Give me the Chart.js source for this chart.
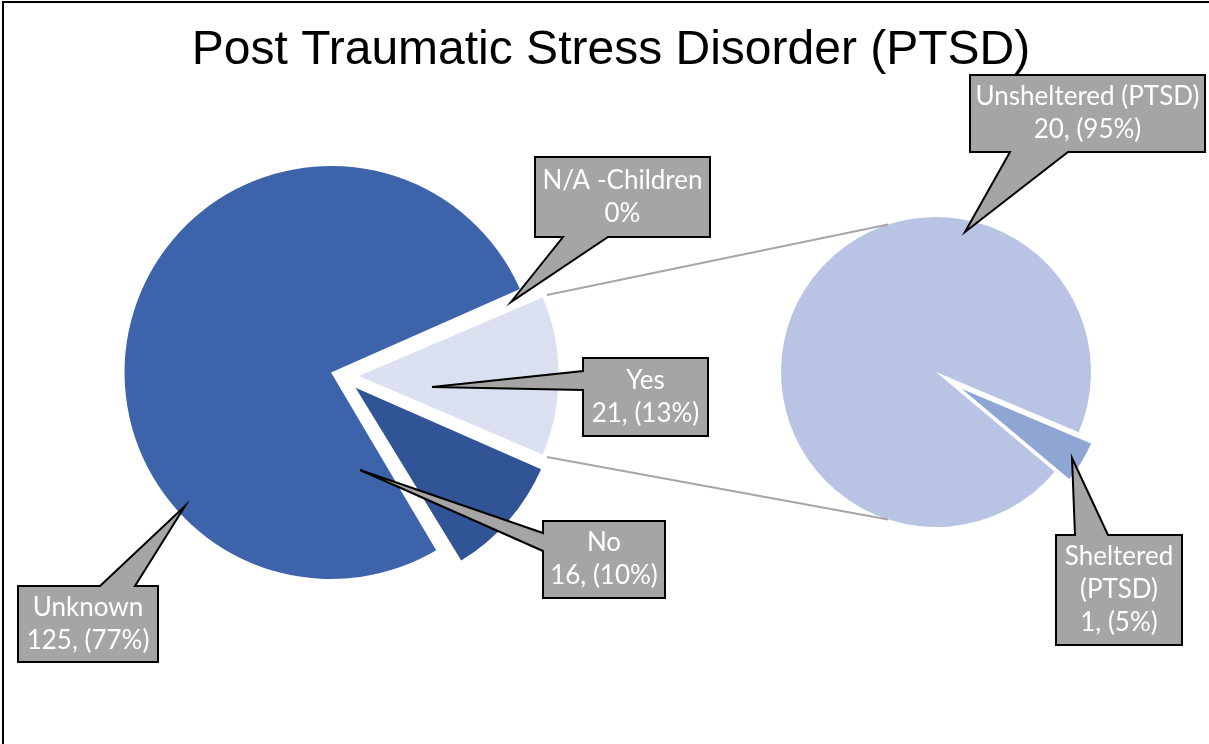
<!DOCTYPE html>
<html>
<head>
<meta charset="utf-8">
<title>Post Traumatic Stress Disorder (PTSD)</title>
<script src="https://cdn.jsdelivr.net/npm/chart.js@4.4.1/dist/chart.umd.min.js"></script>
<style>
    html, body { margin: 0; padding: 0; background: #fff; overflow: hidden; width: 1209px; height: 744px; }
    #frame { position: absolute; left: 2px; top: 1px; width: 1230px; height: 800px; border: 2px solid #000; }
    canvas { position: absolute; left: 0; top: 0; }
</style>
</head>
<body>
<div id="frame"></div>
<canvas id="mainPie" width="1209" height="744"></canvas>
<canvas id="subPie" width="1209" height="744"></canvas>
<canvas id="subSlice" width="1209" height="744"></canvas>
<canvas id="overlay" width="1209" height="744"></canvas>
<script>
const chartTitle = 'Post Traumatic Stress Disorder (PTSD)';

// first pie: Yes is split out into the second pie
const mainLabels = ['Yes', 'No', 'Unknown', 'N/A -Children'];
const mainValues = [21, 16, 125, 0];

// second pie: breakdown of "Yes"
const subLabels = ['Unsheltered (PTSD)', 'Sheltered (PTSD)'];
const subValues = [20, 1];

const W = 1209, H = 744;
const mainColors = ['#DAE0EF', '#305496', '#3D64AB', '#4472C4'];
const subColors = ['#B9C4E4', '#8FA5D4'];
const clear = 'rgba(0,0,0,0)';
const labelFont = '26px Lato, "Open Sans", sans-serif';

const sum = arr => arr.reduce((a, b) => a + b, 0);
const mainTotal = sum(mainValues);
const subTotal = sum(subValues);
const pct = (v, t) => Math.round(v / t * 100) + '%';

// layout padding that puts the pie centre at (cx, cy)
function padFor(cx, cy) {
    return {
        left: Math.max(0, 2 * cx - W),
        right: Math.max(0, W - 2 * cx),
        top: Math.max(0, 2 * cy - H),
        bottom: Math.max(0, H - 2 * cy)
    };
}

function pieOptions(cx, cy, radius, rotation) {
    return {
        responsive: false,
        animation: false,
        events: [],
        rotation: rotation,
        radius: radius,
        layout: { padding: padFor(cx, cy) },
        plugins: { legend: { display: false }, tooltip: { enabled: false }, title: { display: false } }
    };
}

// Yes slice centred on the right-hand side
const mainRotation = 90 - 180 * mainValues[0] / mainTotal;
const subRotation = 130;

const mainChart = new Chart(document.getElementById('mainPie'), {
    type: 'pie',
    data: {
        labels: mainLabels,
        datasets: [{
            data: mainValues,
            backgroundColor: mainColors,
            borderWidth: 0,
            offset: [68, 72, 46, 0]
        }]
    },
    options: pieOptions(342, 376, 195, mainRotation)
});

const subChart = new Chart(document.getElementById('subPie'), {
    type: 'pie',
    data: {
        labels: subLabels,
        datasets: [{ data: subValues, backgroundColor: [subColors[0], clear], borderWidth: 0 }]
    },
    options: pieOptions(936, 372, 155, subRotation)
});

// exploded "Sheltered" slice, drawn a little smaller and pulled out
const sliceChart = new Chart(document.getElementById('subSlice'), {
    type: 'pie',
    data: {
        labels: subLabels,
        datasets: [{ data: subValues, backgroundColor: [clear, subColors[1]], borderWidth: 0 }]
    },
    options: pieOptions(962, 389, 140, subRotation)
});

const callouts = [
    { lines: [mainLabels[3], pct(mainValues[3], mainTotal)],
      box: [535, 157, 175, 80], side: 'bottom', base: [563, 608], tip: [511, 302] },
    { lines: [mainLabels[0], mainValues[0] + ', (' + pct(mainValues[0], mainTotal) + ')'],
      box: [583, 358, 125, 78], side: 'left', base: [371, 390], tip: [432, 387] },
    { lines: [mainLabels[1], mainValues[1] + ', (' + pct(mainValues[1], mainTotal) + ')'],
      box: [543, 521, 122, 77], side: 'left', base: [533, 551], tip: [360, 470] },
    { lines: [mainLabels[2], mainValues[2] + ', (' + pct(mainValues[2], mainTotal) + ')'],
      box: [18, 586, 140, 76], side: 'top', base: [100, 135], tip: [185, 506] },
    { lines: [subLabels[0], subValues[0] + ', (' + pct(subValues[0], subTotal) + ')'],
      box: [970, 75, 235, 77], side: 'bottom', base: [1010, 1068], tip: [965, 232] },
    { lines: subLabels[1].split(' ').concat([subValues[1] + ', (' + pct(subValues[1], subTotal) + ')']),
      box: [1056, 535, 126, 110], side: 'top', base: [1075, 1108], tip: [1072, 458] }
];

function drawCallout(ctx, c) {
    const [x, y, w, h] = c.box;
    const r = x + w, b = y + h;
    const [b1, b2] = c.base;
    const [tx, ty] = c.tip;
    ctx.beginPath();
    if (c.side === 'top') {
        ctx.moveTo(x, y); ctx.lineTo(b1, y); ctx.lineTo(tx, ty); ctx.lineTo(b2, y);
        ctx.lineTo(r, y); ctx.lineTo(r, b); ctx.lineTo(x, b);
    } else if (c.side === 'bottom') {
        ctx.moveTo(x, y); ctx.lineTo(r, y); ctx.lineTo(r, b); ctx.lineTo(b2, b);
        ctx.lineTo(tx, ty); ctx.lineTo(b1, b); ctx.lineTo(x, b);
    } else {
        ctx.moveTo(x, y); ctx.lineTo(r, y); ctx.lineTo(r, b); ctx.lineTo(x, b);
        ctx.lineTo(x, b2); ctx.lineTo(tx, ty); ctx.lineTo(x, b1);
    }
    ctx.closePath();
    ctx.fillStyle = '#A5A5A5';
    ctx.fill();
    ctx.lineWidth = 2;
    ctx.lineJoin = 'miter';
    ctx.strokeStyle = '#000';
    ctx.stroke();

    const lineH = 33;
    let ly = y + (h - lineH * c.lines.length) / 2 + lineH / 2;
    ctx.fillStyle = '#fff';
    ctx.font = labelFont;
    ctx.textAlign = 'center';
    ctx.textBaseline = 'middle';
    c.lines.forEach(t => {
        ctx.fillText(t, x + w / 2, ly);
        ly += lineH;
    });
}

// where an arc actually lands once its offset is applied
function arcGeom(arc) {
    const t = (arc.options.offset || 0) / 4;
    const half = (arc.startAngle + arc.endAngle) / 2;
    const fix = 1 - Math.sin(Math.min(Math.PI, arc.circumference));
    return {
        x: arc.x + Math.cos(half) * t,
        y: arc.y + Math.sin(half) * t,
        r: arc.outerRadius + t * fix
    };
}

const calloutPlugin = {
    id: 'callouts',
    afterDraw(chart) {
        const ctx = chart.ctx;
        const yes = mainChart.getDatasetMeta(0).data[0];
        const g = arcGeom(yes);
        const sub = subChart.getDatasetMeta(0).data[0];
        const joinAngle = 108 * Math.PI / 180;

        ctx.save();
        ctx.strokeStyle = '#A6A6A6';
        ctx.lineWidth = 2;
        [[yes.startAngle, -joinAngle], [yes.endAngle, joinAngle]].forEach(([a, b]) => {
            ctx.beginPath();
            ctx.moveTo(g.x + Math.cos(a) * (g.r + 5), g.y + Math.sin(a) * (g.r + 5));
            ctx.lineTo(sub.x + Math.cos(b) * sub.outerRadius, sub.y + Math.sin(b) * sub.outerRadius);
            ctx.stroke();
        });

        callouts.forEach(c => drawCallout(ctx, c));
        ctx.restore();
    }
};

new Chart(document.getElementById('overlay'), {
    type: 'pie',
    data: { labels: [], datasets: [] },
    options: {
        responsive: false,
        animation: false,
        events: [],
        layout: { padding: { left: 13 } },
        plugins: {
            legend: { display: false },
            tooltip: { enabled: false },
            title: {
                display: true,
                text: chartTitle,
                color: '#000',
                font: { family: '"Liberation Sans", Arial, sans-serif', size: 48, weight: 'normal', lineHeight: 1.2 },
                padding: { top: 22, bottom: 0 }
            }
        }
    },
    plugins: [calloutPlugin]
});
</script>
</body>
</html>
